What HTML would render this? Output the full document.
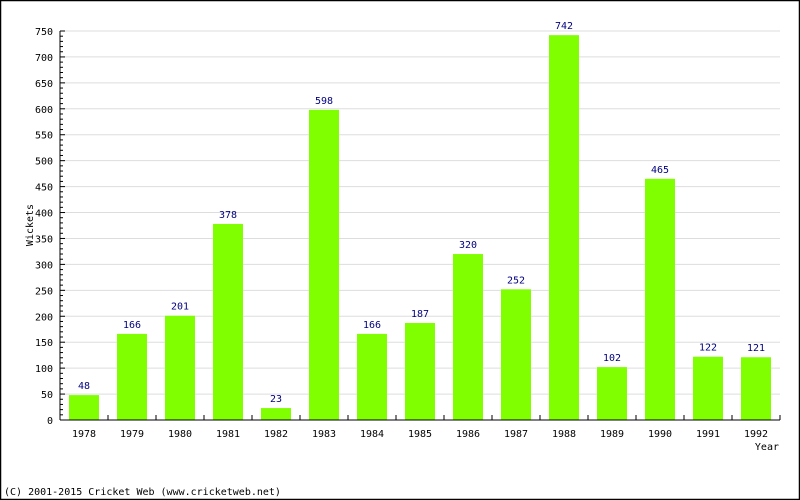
<!DOCTYPE html>
<html><head><meta charset="utf-8"><style>
html,body{margin:0;padding:0;background:#fff}
svg{display:block;font-family:"DejaVu Sans Mono","Liberation Mono",monospace}
</style></head><body>
<svg id="chart" width="800" height="500" xmlns="http://www.w3.org/2000/svg">
<rect x="0.5" y="0.5" width="799" height="499" fill="#fff" stroke="#000" stroke-width="1.5"/>
<g id="grid"></g><g id="bars"></g><g id="axes"></g>
<text transform="translate(33,225) rotate(-90)" text-anchor="middle" font-size="10">Wickets</text>
<text x="779" y="450" text-anchor="end" font-size="10">Year</text>
<text x="4" y="495" font-size="10">(C) 2001-2015 Cricket Web (www.cricketweb.net)</text>
</svg>
<script>
const categories=["1978","1979","1980","1981","1982","1983","1984","1985","1986","1987","1988","1989","1990","1991","1992"];
const wickets=[48,166,201,378,23,598,166,187,320,252,742,102,465,122,121];
const yTicks=[0,50,100,150,200,250,300,350,400,450,500,550,600,650,700,750];
const NS="http://www.w3.org/2000/svg";
const X0=60,X1=780,Y0=420,Y1=31,YMAX=750;
const band=(X1-X0)/categories.length;
const y=v=>Y0-(v/YMAX)*(Y0-Y1);
const xc=i=>X0+band*i+band/2;
function mk(p,tag,a){const e=document.createElementNS(NS,tag);for(const k in a)e.setAttribute(k,a[k]);p.appendChild(e);return e;}
const grid=document.getElementById('grid'),bars=document.getElementById('bars'),axes=document.getElementById('axes');
yTicks.forEach(t=>{
  if(t>0){const g=mk(grid,'line',{x1:X0,x2:X1,y1:y(t),y2:y(t),stroke:'#ddd'});
  
  }
  const l=mk(axes,'text',{x:X0-7,y:y(t)+4,'text-anchor':'end','font-size':10});
  l.textContent=t;
  
  
  mk(axes,'line',{x1:X0,x2:X0+5,y1:y(t),y2:y(t),stroke:'#000'});
});
for(let v=10;v<YMAX;v+=10){if(v%50)mk(axes,'line',{x1:X0,x2:X0+3,y1:y(v),y2:y(v),stroke:'#000'});}
categories.forEach((c,i)=>{
  const w=30,v=wickets[i];
  const r=mk(bars,'rect',{x:xc(i)-w/2,y:y(v),width:w,height:Y0-y(v),fill:'#80ff00'});
  
  
  const vl=mk(bars,'text',{x:xc(i),y:y(v)-6,'text-anchor':'middle','font-size':10,fill:'#000080'});
  vl.textContent=v;
  
  
  const xl=mk(axes,'text',{x:xc(i),y:Y0+17,'text-anchor':'middle','font-size':10});
  xl.textContent=c;
  
  
  mk(axes,'line',{x1:X0+band*(i+1),x2:X0+band*(i+1),y1:Y0,y2:Y0-5,stroke:'#000'});
});
const ya=mk(axes,'line',{x1:X0,x2:X0,y1:Y1,y2:Y0,stroke:'#000'});


const xa=mk(axes,'line',{x1:X0,x2:X1,y1:Y0,y2:Y0,stroke:'#000'});


</script>
</body></html>
